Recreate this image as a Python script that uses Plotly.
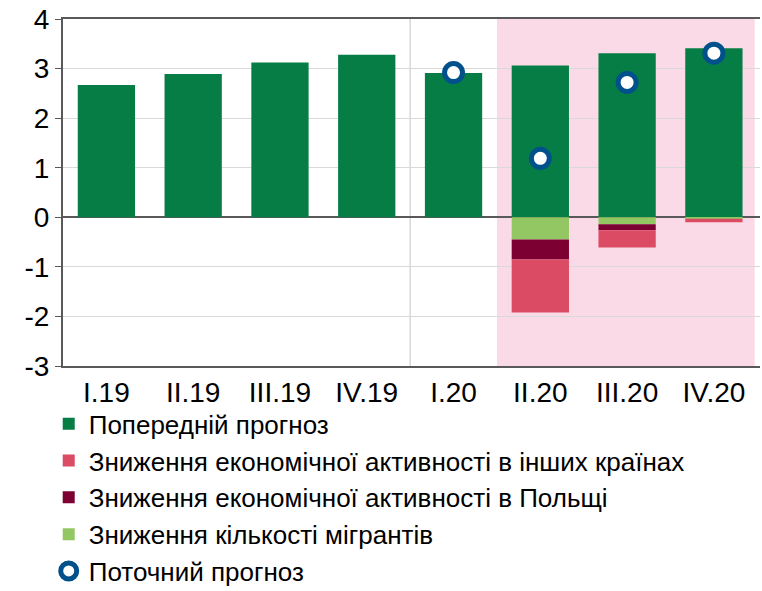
import plotly.graph_objects as go

# data
quarters = ["I.19", "II.19", "III.19", "IV.19", "I.20", "II.20", "III.20", "IV.20"]
prev_forecast = [2.67, 2.89, 3.12, 3.28, 2.91, 3.06, 3.31, 3.41]
other_countries = [None, None, None, None, None, -1.07, -0.35, -0.07]
poland = [None, None, None, None, None, -0.40, -0.12, None]
migrants = [None, None, None, None, None, -0.45, -0.14, -0.03]
curr_quarters = ["I.20", "II.20", "III.20", "IV.20"]
curr_forecast = [2.92, 1.19, 2.72, 3.31]
y_ticks = [-3, -2, -1, 0, 1, 2, 3, 4]
y_ticklabels = ["-3", "-2", "-1", "0", "1", "2", "3", "4"]

GREEN = "#077d46"
PINK = "#dc4b64"
DARKRED = "#7d0032"
LIGHTGREEN = "#92c764"
NAVY = "#00508c"
AXIS = "#595959"

fig = go.Figure()

# negative stacks: first added sits closest to zero
fig.add_trace(go.Bar(x=quarters, y=prev_forecast, name="Попередній прогноз",
                     marker=dict(color=GREEN, line=dict(width=0)), legendrank=1))
fig.add_trace(go.Bar(x=quarters, y=migrants, name="Зниження кількості мігрантів",
                     marker=dict(color=LIGHTGREEN, line=dict(width=0)), legendrank=4))
fig.add_trace(go.Bar(x=quarters, y=poland, name="Зниження економічної активності в Польщі",
                     marker=dict(color=DARKRED, line=dict(width=0)), legendrank=3))
fig.add_trace(go.Bar(x=quarters, y=other_countries,
                     name="Зниження економічної активності в інших країнах",
                     marker=dict(color=PINK, line=dict(width=0)), legendrank=2))
fig.add_trace(go.Scatter(x=curr_quarters, y=curr_forecast, mode="markers",
                         name="Поточний прогноз", legendrank=5,
                         marker=dict(size=18, color="white",
                                     line=dict(width=5, color=NAVY))))

# shaded forecast period
fig.add_shape(type="rect", xref="x", yref="y", x0=4.5, x1=7.47, y0=-3, y1=4,
              fillcolor="#fadae6", line=dict(width=0), layer="below")
# separator between 2019 and 2020
fig.add_shape(type="line", xref="x", yref="y", x0=3.5, x1=3.5, y0=-3, y1=4,
              line=dict(color="#d3d9d9", width=1.5), layer="below")

fig.update_layout(
    width=762, height=591,
    barmode="relative",
    bargap=0.34,
    plot_bgcolor="white",
    paper_bgcolor="white",
    margin=dict(l=63, r=2, t=19, b=225, autoexpand=False),
    font=dict(family="Liberation Sans, Arial, sans-serif", size=28, color="black"),
    legend=dict(orientation="v", x=-0.0205, xanchor="left", y=-0.099, yanchor="top",
                font=dict(size=26), itemwidth=30, tracegroupgap=0,
                traceorder="normal", bgcolor="rgba(0,0,0,0)"),
)

fig.update_xaxes(showgrid=False, showline=True, linecolor=AXIS, linewidth=2,
                 mirror=True, ticks="", tickfont=dict(size=28))
fig.update_yaxes(range=[-3, 4], tickvals=y_ticks, ticktext=y_ticklabels,
                 showgrid=True, gridcolor="#d9d9d9", ticklabeloverflow="allow",
                 gridwidth=1, zeroline=True, zerolinecolor=AXIS, zerolinewidth=2,
                 showline=True, linecolor=AXIS, linewidth=2, ticks="outside",
                 ticklen=6, tickcolor=AXIS, tickfont=dict(size=28))

# drop the default body margin so the figure fills the window
fig.write_html("out.html", config={"displayModeBar": False},
               post_script="document.body.style.margin='0';")
